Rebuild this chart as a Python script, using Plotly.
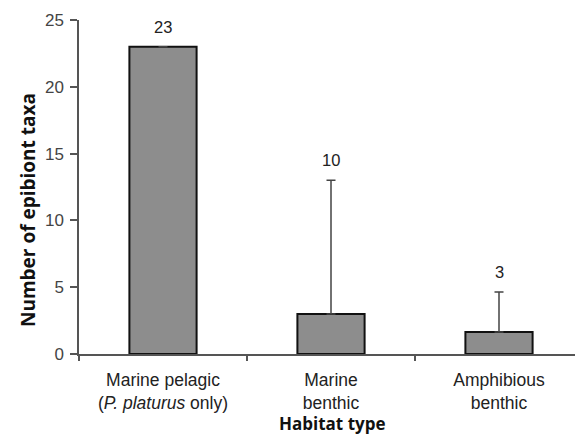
import plotly.graph_objects as go

categories = ["Marine pelagic<br>(<i>P. platurus</i> only)", "Marine<br>benthic", "Amphibious<br>benthic"]
mean_taxa = [23, 3, 1.65]
err_plus = [0, 10, 3]
taxa_counts = [23, 10, 3]
y_ticks = [0, 5, 10, 15, 20, 25]

# page body has an 8px margin; compensate so the plot lands where the reference has it
OFF = 8
W, H = 583 - OFF, 436 - OFF
L, R, T, B = 79 - OFF, 0, 20 - OFF, 82
PH = H - T - B          # plot height in px
PW = W - L - R

fig = go.Figure()
fig.add_trace(go.Bar(
    x=categories, y=mean_taxa, width=0.4,
    marker=dict(color="#8d8d8d", line=dict(color="#111111", width=2)),
    error_y=dict(type="data", symmetric=False, array=err_plus,
                 arrayminus=[0] * len(err_plus), color="#444444",
                 thickness=1.5, width=4.5),
))

for c, m, e, n in zip(categories, mean_taxa, err_plus, taxa_counts):
    fig.add_annotation(x=c, y=m + e, text=str(n), showarrow=False,
                       yanchor="bottom", yshift=9,
                       font=dict(family="Liberation Sans", size=16.5, color="#222222"))

fig.add_annotation(xref="paper", yref="paper", x=0, y=(354 - 210) / PH,
                   xshift=-51, text="<b>Number of epibiont taxa</b>", textangle=-90,
                   showarrow=False, xanchor="center", yanchor="middle",
                   font=dict(family="Open Sans", size=19, color="#111111"))
fig.add_annotation(xref="paper", yref="paper", x=(332 - 79) / PW, y=0,
                   yshift=-(423 - 354), text="<b>Habitat type</b>",
                   showarrow=False, xanchor="center", yanchor="middle",
                   font=dict(family="Open Sans", size=17, color="#111111"))

fig.update_layout(
    width=W, height=H, margin=dict(l=L, r=R, t=T, b=B, autoexpand=False),
    paper_bgcolor="white", plot_bgcolor="white", showlegend=False,
)
fig.update_xaxes(range=[-0.5, 2.5], showline=True, linecolor="#555555", linewidth=1.5,
                 ticks="outside", tickson="boundaries", ticklen=5, tickcolor="#555555",
                 tickwidth=1.5, showgrid=False, ticklabelstandoff=9,
                 tickfont=dict(family="Liberation Sans", size=17.5, color="#222222"))
fig.update_yaxes(range=[0, 25], tickvals=y_ticks, showline=True, linecolor="#555555",
                 linewidth=1.5, ticks="outside", ticklen=7, tickcolor="#555555",
                 tickwidth=1.5, showgrid=False, zeroline=False, ticklabelstandoff=3,
                 tickfont=dict(family="Liberation Sans", size=17, color="#444444"))

fig.write_html("out.html")
